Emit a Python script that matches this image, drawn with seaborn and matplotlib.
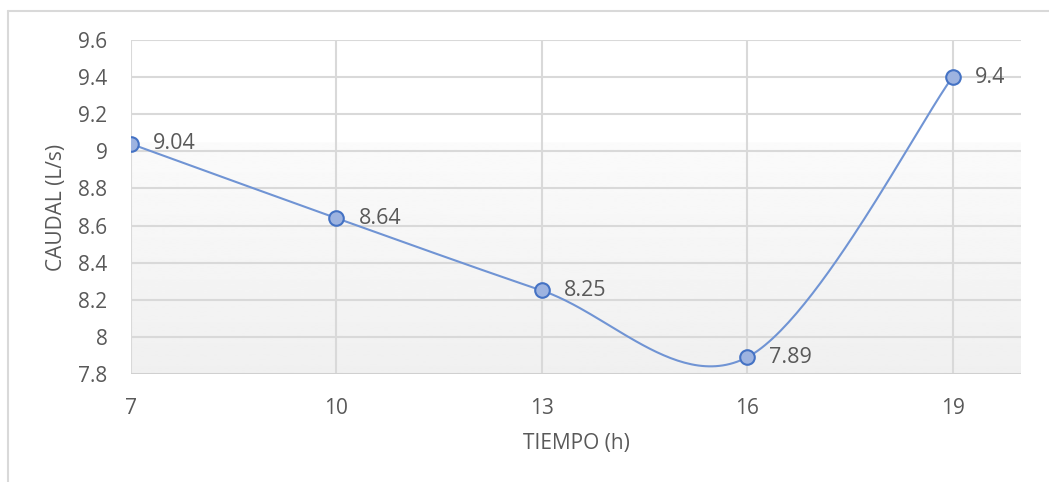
import matplotlib
matplotlib.use("Agg")
import matplotlib.pyplot as plt
import seaborn as sns
import pandas as pd
import numpy as np

# datos
tiempo = [7, 10, 13, 16, 19]
caudal = [9.04, 8.64, 8.25, 7.89, 9.4]
etiquetas = ["9.04", "8.64", "8.25", "7.89", "9.4"]
yticks = [7.8, 8.0, 8.2, 8.4, 8.6, 8.8, 9.0, 9.2, 9.4, 9.6]
ytick_labels = ["7.8", "8", "8.2", "8.4", "8.6", "8.8", "9", "9.2", "9.4", "9.6"]

df = pd.DataFrame({"TIEMPO": tiempo, "CAUDAL": caudal})

sns.set_style("white")
plt.rcParams['font.family'] = ['Open Sans', 'DejaVu Sans']
txt = "#595959"


# linea suavizada tipo Excel (Catmull-Rom -> Bezier)
def suavizar(xs, ys, n=60):
    p = np.column_stack([xs, ys]).astype(float)
    out = []
    for i in range(len(p) - 1):
        p0 = p[i - 1] if i > 0 else p[i]
        p1, p2 = p[i], p[i + 1]
        p3 = p[i + 2] if i + 2 < len(p) else p[i + 1]
        c1 = p1 + (p2 - p0) / 6
        c2 = p2 - (p3 - p1) / 6
        t = np.linspace(0, 1, n)[:, None]
        seg = (1 - t) ** 3 * p1 + 3 * (1 - t) ** 2 * t * c1 + 3 * (1 - t) * t ** 2 * c2 + t ** 3 * p2
        out.append(seg if i == 0 else seg[1:])
    return np.vstack(out)


curva = suavizar(df["TIEMPO"], df["CAUDAL"])
curva_df = pd.DataFrame({"x": curva[:, 0], "y": curva[:, 1]})

fig = plt.figure(figsize=(10.49, 4.82), dpi=100)
ax = fig.add_axes([131 / 1049, 1 - 374 / 482, 890 / 1049, 334 / 482])

# marco exterior (solo arriba e izquierda visibles)
fig.add_artist(plt.Line2D([8 / 1049, 1.0], [1 - 11 / 482] * 2, color="#d9d9d9", lw=1.5, transform=fig.transFigure))
fig.add_artist(plt.Line2D([8 / 1049] * 2, [0, 1 - 11 / 482], color="#d9d9d9", lw=1.5, transform=fig.transFigure))

ax.set_xlim(7, 20)
ax.set_ylim(7.8, 9.6)

# fondo degradado del area de trazado
grad = np.ones((300, 1))
frac = np.linspace(0, 1, 300)
corte = (9.05 - 7.8) / 1.8
vals = np.where(frac <= corte, 0.940 + (0.982 - 0.940) * frac / corte, 1.0)
grad[:, 0] = vals
ax.imshow(grad, extent=(7, 20, 7.8, 9.6), origin="lower", aspect="auto",
          cmap="gray", vmin=0, vmax=1, zorder=0, interpolation="bilinear")

for y in yticks:
    ax.axhline(y, color="#d9d9d9", lw=1.5, zorder=1)
for x in tiempo:
    ax.axvline(x, color="#d9d9d9", lw=1.5, zorder=1)
ax.axhline(7.8, color="#cfcfcf", lw=2, zorder=1)

sns.lineplot(data=curva_df, x="x", y="y", sort=False, color="#7094d4", lw=1.5, ax=ax, zorder=3)
sns.scatterplot(data=df, x="TIEMPO", y="CAUDAL", s=110, color="#9db3e0", edgecolor="#4472c4",
                linewidth=1.5, ax=ax, zorder=4)

for x, y, lab in zip(tiempo, caudal, etiquetas):
    ax.annotate(lab, (x, y), xytext=(16, 0), textcoords="offset points", va="center",
                ha="left", fontsize=15.5, color=txt)

for s in ax.spines.values():
    s.set_visible(False)

ax.set_xticks(tiempo)
ax.set_xticklabels([str(t) for t in tiempo])
ax.set_yticks(yticks)
ax.set_yticklabels(ytick_labels)
ax.tick_params(axis="both", length=0, labelsize=15, colors=txt)
ax.tick_params(axis="x", pad=17)
ax.tick_params(axis="y", pad=17)
ax.set_xlabel("TIEMPO (h)", fontsize=15, color=txt, labelpad=10)
ax.set_ylabel("CAUDAL (L/s)", fontsize=15, color=txt, labelpad=8)

fig.savefig("out.png", dpi=100)
